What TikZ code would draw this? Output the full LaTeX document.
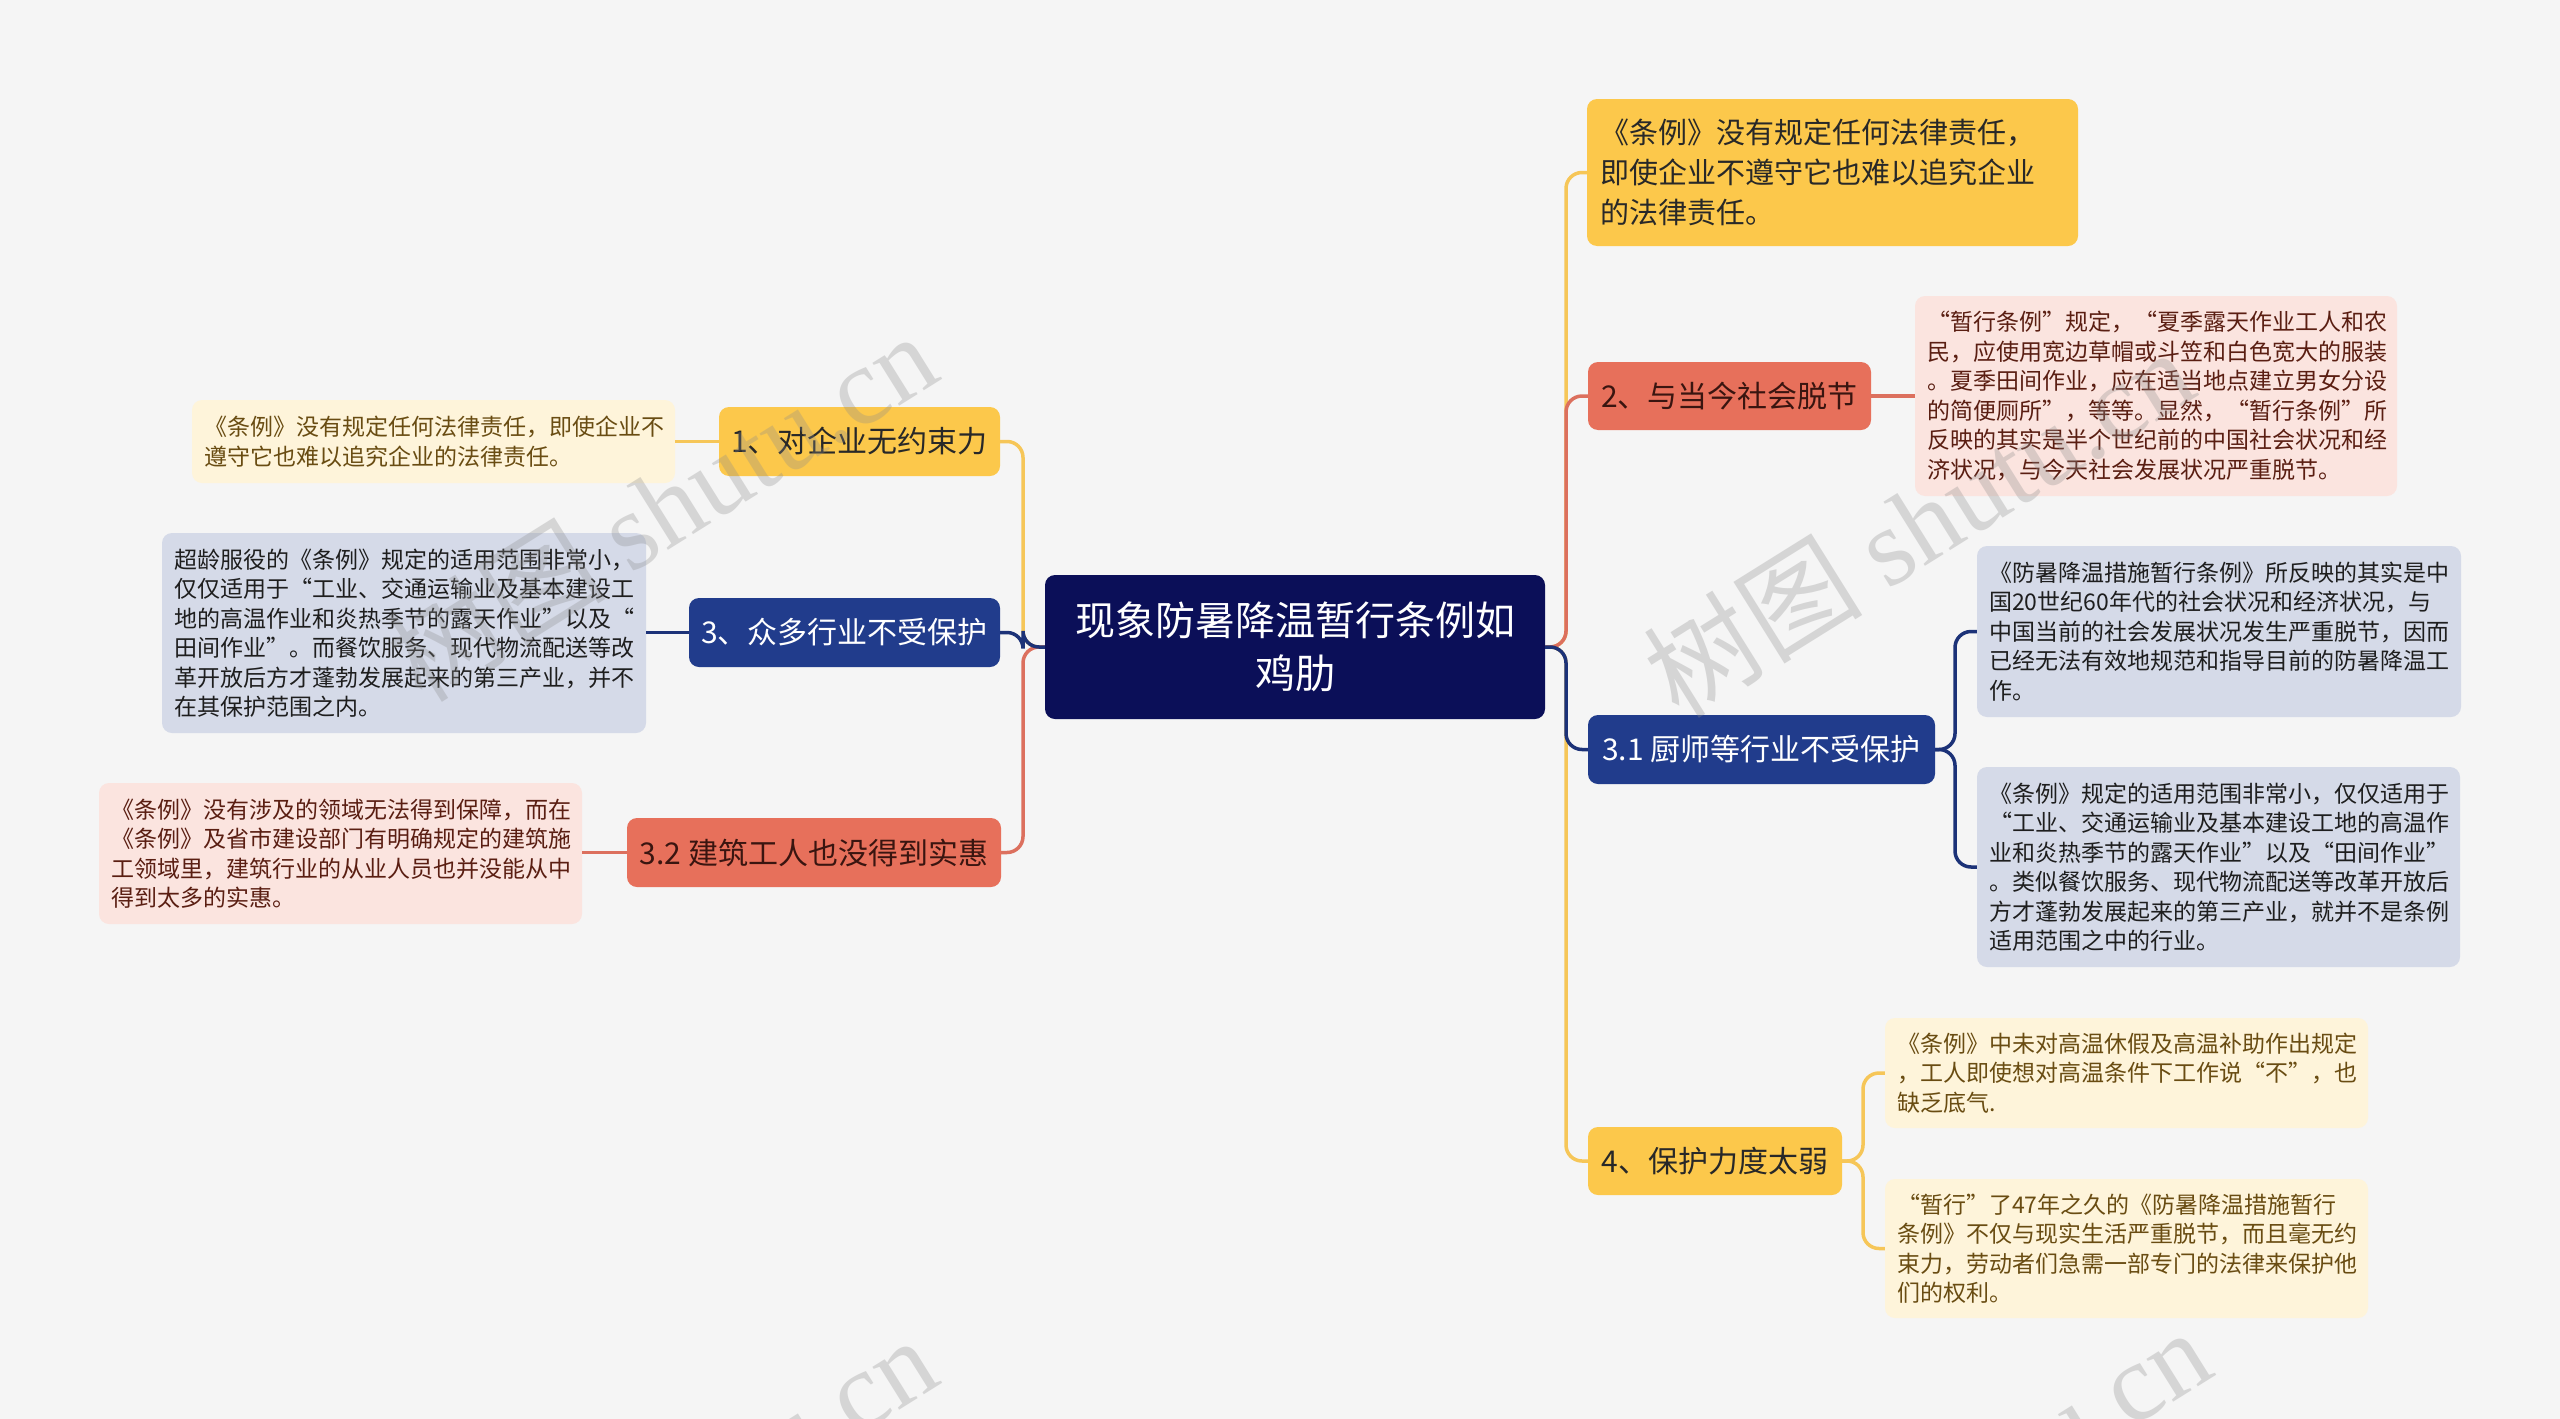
\documentclass[tikz,border=0pt]{standalone}
\usepackage{fontspec}
\setmainfont{Noto Sans CJK SC}
\newfontfamily\wmlatin{Liberation Serif}
\definecolor{bgc}{RGB}{245,245,245}
\definecolor{navy}{RGB}{11,15,88}
\definecolor{yel}{RGB}{252,200,75}
\definecolor{yelline}{RGB}{246,198,88}
\definecolor{redc}{RGB}{231,112,91}
\definecolor{redline}{RGB}{220,112,94}
\definecolor{bluec}{RGB}{33,60,140}
\definecolor{blueline}{RGB}{28,50,120}
\definecolor{cream}{RGB}{254,244,218}
\definecolor{pinkc}{RGB}{251,228,223}
\definecolor{bgray}{RGB}{213,218,232}
\definecolor{creamtxt}{RGB}{105,76,18}
\definecolor{pinktxt}{RGB}{90,30,18}
\definecolor{graytxt}{RGB}{30,30,30}
\definecolor{redtxt}{RGB}{58,21,16}
\definecolor{yeltxt}{RGB}{40,40,40}
\newcommand\notefs{\fontsize{23}{29.5}\selectfont}
\newcommand\lvfs{\fontsize{30}{36}\selectfont}
\begin{document}
\begin{tikzpicture}[x=1pt,y=-1pt,
  box/.style={rounded corners=10pt, inner sep=0pt, align=center},
  note/.style={rounded corners=10pt, inner ysep=0pt, inner xsep=12pt, align=left, font=\notefs},
  lv/.style={box, font=\lvfs},
  conn/.style={line width=3.5pt, rounded corners=16pt},
]
\useasboundingbox (0,0) rectangle (2560,1419);
\fill[bgc] (0,0) rectangle (2560,1419);

% center
\node[box, fill=navy, text=white, minimum width=500pt, minimum height=144pt,
  font=\fontsize{40}{53}\selectfont] (c) at (1295,647) {现象防暑降温暂行条例如\\鸡肋};

% right side
\node[note, fill=yel, text=yeltxt, text width=465pt, minimum height=147pt, inner xsep=13pt,
  font=\fontsize{29}{40}\selectfont] (r1) at (1832.5,172.5)
  {《条例》没有规定任何法律责任，\\即使企业不遵守它也难以追究企业\\的法律责任。};

\node[lv, fill=redc, text=redtxt, minimum width=283pt, minimum height=68pt] (r2) at (1729.5,396) {2、与当今社会脱节};
\node[note, fill=pinkc, text=pinktxt, text width=458pt, minimum height=200pt] (r2n) at (2156,396)
  {“暂行条例”规定，“夏季露天作业工人和农\\民，应使用宽边草帽或斗笠和白色宽大的服装\\。夏季田间作业，应在适当地点建立男女分设\\的简便厕所”，等等。显然，“暂行条例”所\\反映的其实是半个世纪前的中国社会状况和经\\济状况，与今天社会发展状况严重脱节。};

\node[lv, fill=bluec, text=white, minimum width=347pt, minimum height=69pt] (r31) at (1761.5,749.5) {3.1 厨师等行业不受保护};
\node[note, fill=bgray, text=graytxt, text width=460pt, minimum height=171pt] (r31a) at (2219,631.5)
  {《防暑降温措施暂行条例》所反映的其实是中\\国20世纪60年代的社会状况和经济状况，与\\中国当前的社会发展状况发生严重脱节，因而\\已经无法有效地规范和指导目前的防暑降温工\\作。};
\node[note, fill=bgray, text=graytxt, text width=459pt, minimum height=200pt] (r31b) at (2218.5,867)
  {《条例》规定的适用范围非常小，仅仅适用于\\“工业、交通运输业及基本建设工地的高温作\\业和炎热季节的露天作业”以及“田间作业”\\。类似餐饮服务、现代物流配送等改革开放后\\方才蓬勃发展起来的第三产业，就并不是条例\\适用范围之中的行业。};

\node[lv, fill=yel, text=yeltxt, minimum width=254pt, minimum height=68pt] (r4) at (1715,1161) {4、保护力度太弱};
\node[note, fill=cream, text=creamtxt, text width=459pt, minimum height=110pt] (r4a) at (2126.5,1073)
  {《条例》中未对高温休假及高温补助作出规定\\，工人即使想对高温条件下工作说“不”，也\\缺乏底气.};
\node[note, fill=cream, text=creamtxt, text width=459pt, minimum height=139pt] (r4b) at (2126.5,1248.5)
  {“暂行”了47年之久的《防暑降温措施暂行\\条例》不仅与现实生活严重脱节，而且毫无约\\束力，劳动者们急需一部专门的法律来保护他\\们的权利。};

% left side
\node[lv, fill=yel, text=yeltxt, minimum width=281pt, minimum height=69pt] (l1) at (859.5,441.5) {1、对企业无约束力};
\node[note, fill=cream, text=creamtxt, text width=459pt, minimum height=83pt] (l1n) at (433.5,441.5)
  {《条例》没有规定任何法律责任，即使企业不\\遵守它也难以追究企业的法律责任。};

\node[lv, fill=bluec, text=white, minimum width=311pt, minimum height=69pt] (l3) at (844.5,632.5) {3、众多行业不受保护};
\node[note, fill=bgray, text=graytxt, text width=460pt, minimum height=200pt] (l3n) at (404,633)
  {超龄服役的《条例》规定的适用范围非常小，\\仅仅适用于“工业、交通运输业及基本建设工\\地的高温作业和炎热季节的露天作业”以及“\\田间作业”。而餐饮服务、现代物流配送等改\\革开放后方才蓬勃发展起来的第三产业，并不\\在其保护范围之内。};

\node[lv, fill=redc, text=redtxt, minimum width=374pt, minimum height=69pt] (l32) at (814,852.5) {3.2 建筑工人也没得到实惠};
\node[note, fill=pinkc, text=pinktxt, text width=459pt, minimum height=141pt] (l32n) at (340.5,853.5)
  {《条例》没有涉及的领域无法得到保障，而在\\《条例》及省市建设部门有明确规定的建筑施\\工领域里，建筑行业的从业人员也并没能从中\\得到太多的实惠。};

% trunk coordinates
\coordinate (lt) at (1023,647);
\coordinate (rt) at (1566,647);
\coordinate (r3t) at (1955,749.5);
\coordinate (r4t) at (1863,1161);

% connectors left
\draw[conn, yelline] (c.west) -- (lt) |- (l1.east);
\draw[conn, redline] (c.west) -- (lt) |- (l32.east);
\draw[conn, blueline] (c.west) -- (lt) |- (l3.east);
\draw[conn, yelline] (l1.west) -- (l1n.east);
\draw[conn, blueline] (l3.west) -- (l3.west -| l3n.east);
\draw[conn, redline] (l32.west) -- (l32.west -| l32n.east);

% connectors right
\draw[conn, yelline] (c.east) -- (rt) |- (r1.west);
\draw[conn, yelline] (c.east) -- (rt) |- (r4.west);
\draw[conn, redline] (c.east) -- (rt) |- (r2.west);
\draw[conn, blueline] (c.east) -- (rt) |- (r31.west);
\draw[conn, redline] (r2.east) -- (r2n.west);
\draw[conn, blueline] (r31.east) -- (r3t) |- (r31a.west);
\draw[conn, blueline] (r31.east) -- (r3t) |- (r31b.west);
\draw[conn, yelline] (r4.east) -- (r4t) |- (r4a.west);
\draw[conn, yelline] (r4.east) -- (r4t) |- (r4b.west);

% watermark
\tikzset{wm/.style={text=black!45, opacity=0.3, rotate=32, font=\fontsize{110}{110}\selectfont}}
\node[wm] (w1) at (661,506) {树图 {\wmlatin shutu.cn}};
\node[wm] (w2) at (1918,522) {树图 {\wmlatin shutu.cn}};
\node[wm] (w3) at (661,1510) {树图 {\wmlatin shutu.cn}};
\node[wm] (w4) at (1935,1502) {树图 {\wmlatin shutu.cn}};
\end{tikzpicture}
\end{document}
